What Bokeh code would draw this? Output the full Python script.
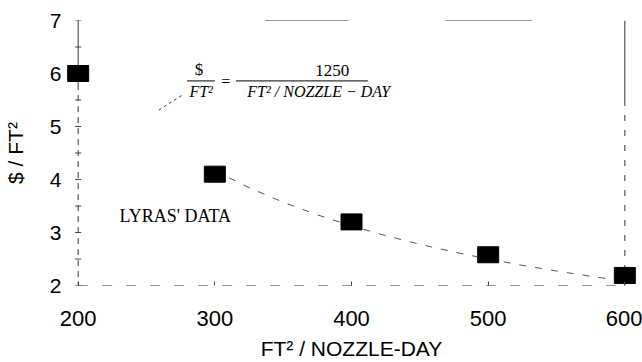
from bokeh.plotting import figure
from bokeh.models import Label, Range1d, FixedTicker
from bokeh.embed import file_html
from bokeh.resources import INLINE

# Measured cost per square foot against nozzle loading
nozzle_load = [200, 300, 400, 500, 600]
cost_per_ft2 = [6.0, 4.1, 3.2, 2.58, 2.19]

# Fitted relation $/FT^2 = 1250 / (FT^2/NOZZLE-DAY)
fit_coeff = 1250
fit_x = [300, 325, 350, 375, 400, 425, 450, 475, 500, 525, 550, 575, 600]
fit_y = [fit_coeff / v for v in fit_x]

x_ticks = [200, 300, 400, 500, 600]
y_ticks = [2, 3, 4, 5, 6, 7]

SANS = "Liberation Sans"
SERIF = "Liberation Serif"

# A little room either side of 200..600 so the end markers are not clipped
p = figure(width=642, height=362, x_range=Range1d(190, 610), y_range=Range1d(2, 7),
           output_backend="svg", toolbar_location=None,
           min_border_left=58, min_border_right=4, min_border_top=20, min_border_bottom=75)
p.outline_line_color = None
p.xgrid.grid_line_color = None
p.ygrid.grid_line_color = None
p.background_fill_color = "white"
p.border_fill_color = "white"

for ax in (p.xaxis[0], p.yaxis[0]):
    ax.axis_line_color = None
    ax.major_tick_out = 0
    ax.major_tick_in = 4
    ax.major_tick_line_color = "#444"
    ax.minor_tick_line_color = None
    ax.major_label_text_font = SANS
    ax.major_label_text_color = "black"
    ax.axis_label_text_font = SANS
    ax.axis_label_text_font_style = "normal"
    ax.axis_label_text_color = "black"

p.yaxis.major_tick_line_color = None
p.xaxis.ticker = FixedTicker(ticks=x_ticks)
p.yaxis.ticker = FixedTicker(ticks=y_ticks)
p.xaxis.major_label_text_font_size = "22px"
p.yaxis.major_label_text_font_size = "21px"
p.xaxis.major_label_standoff = 25
p.yaxis.major_label_standoff = 3
p.xaxis.axis_label = "FT\u00b2 / NOZZLE-DAY"
p.yaxis.axis_label = "$ / FT\u00b2"
p.xaxis.axis_label_text_font_size = "21px"
p.yaxis.axis_label_text_font_size = "21px"
p.xaxis.axis_label_standoff = 8
p.yaxis.axis_label_standoff = 20

# Broken frame lines
frame_col = "#333"
p.line([200, 200], [7, 5.8], line_color=frame_col, line_width=1)
p.line([200, 200], [5.8, 2], line_color=frame_col, line_width=1, line_dash="6 5")
p.line([200, 600], [2, 2], line_color=frame_col, line_width=1, line_dash="10 14")
p.line([600, 600], [7, 5.5], line_color=frame_col, line_width=1)
p.line([600, 600], [5.5, 2], line_color=frame_col, line_width=1, line_dash="6 9")
p.line([337, 398], [7, 7], line_color=frame_col, line_width=1)
p.line([469, 532], [7, 7], line_color=frame_col, line_width=1)

# Small tick marks along the left frame line
half_ticks = [t + 0.5 for t in y_ticks[:-1]] + y_ticks
p.scatter([200] * len(half_ticks), half_ticks, marker="dash", size=6,
          line_color="#444", line_width=1)

# Fitted curve
p.line(fit_x, fit_y, line_color="#555", line_width=1, line_dash="7 9")

# Data points
p.rect(nozzle_load, cost_per_ft2, width=21, height=16,
       width_units="screen", height_units="screen",
       fill_color="black", line_color="black")

# Formula annotation
def txt(x, y, s, size="15px", style="normal"):
    p.add_layout(Label(x=x, y=y, text=s, text_font=SERIF, text_font_size=size,
                       text_font_style=style, text_align="center",
                       text_baseline="middle", text_color="black"))

txt(288.5, 6.08, "$", size="17px")
p.line([279.7, 300], [5.86, 5.86], line_color="black", line_width=1)
txt(290, 5.66, "FT\u00b2", size="16px", style="italic")
txt(308, 5.84, "=", size="16px")
txt(386, 6.05, "1250", size="17px")
p.line([315.4, 412], [5.86, 5.86], line_color="black", line_width=1)
txt(376, 5.66, "FT\u00b2 / NOZZLE \u2212 DAY", size="16px", style="italic")
p.line([259, 276], [5.31, 5.59], line_color="#444", line_width=1, line_dash="3 3")

txt(271, 3.31, "LYRAS' DATA", size="18px")

open("out.html", "w").write(file_html(p, INLINE))
